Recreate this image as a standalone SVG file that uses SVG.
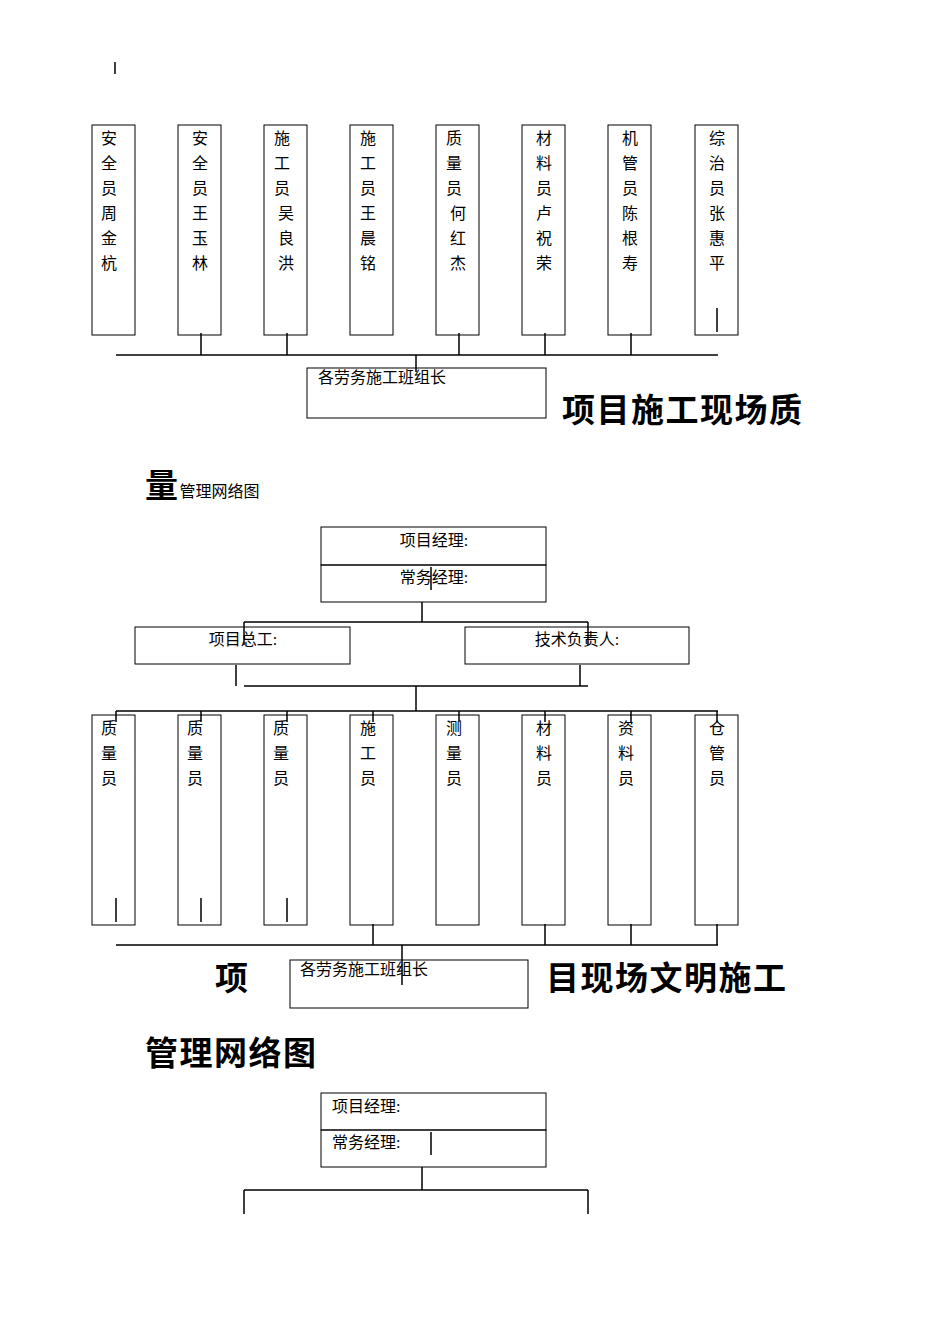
<svg xmlns="http://www.w3.org/2000/svg" width="950" height="1344" viewBox="0 0 950 1344">
<style>
.b{fill:none;stroke:#000;stroke-width:1}
.l{stroke:#000;stroke-width:1.5;fill:none}
.t{font-family:"Liberation Serif","Noto Sans CJK SC",serif;font-size:16px;fill:#000}
.v{font-family:"Liberation Serif","Noto Sans CJK SC",serif;font-size:16px;fill:#000;text-anchor:middle}
.h{font-family:"Noto Sans CJK SC",sans-serif;font-size:33px;letter-spacing:1.5px;font-weight:bold;fill:#000}
</style>
<rect width="950" height="1344" fill="#fff"/>
<line x1="115" y1="62" x2="115" y2="74" class="l" stroke-width="1"/>
<g id="s1">
<g id="n1a"><rect x="92" y="125" width="43" height="210" class="b"/><text class="v"><tspan x="109" y="144">安</tspan><tspan x="109" y="169">全</tspan><tspan x="109" y="194">员</tspan><tspan x="109" y="219">周</tspan><tspan x="109" y="244">金</tspan><tspan x="109" y="269">杭</tspan></text></g>
<g id="n1b"><rect x="178" y="125" width="43" height="210" class="b"/><text class="v"><tspan x="200" y="144">安</tspan><tspan x="200" y="169">全</tspan><tspan x="200" y="194">员</tspan><tspan x="200" y="219">王</tspan><tspan x="200" y="244">玉</tspan><tspan x="200" y="269">林</tspan></text></g>
<g id="n1c"><rect x="264" y="125" width="43" height="210" class="b"/><text class="v"><tspan x="282" y="144">施</tspan><tspan x="282" y="169">工</tspan><tspan x="282" y="194">员</tspan><tspan x="286" y="219">吴</tspan><tspan x="286" y="244">良</tspan><tspan x="286" y="269">洪</tspan></text></g>
<g id="n1d"><rect x="350" y="125" width="43" height="210" class="b"/><text class="v"><tspan x="368" y="144">施</tspan><tspan x="368" y="169">工</tspan><tspan x="368" y="194">员</tspan><tspan x="368" y="219">王</tspan><tspan x="368" y="244">晨</tspan><tspan x="368" y="269">铭</tspan></text></g>
<g id="n1e"><rect x="436" y="125" width="43" height="210" class="b"/><text class="v"><tspan x="454" y="144">质</tspan><tspan x="454" y="169">量</tspan><tspan x="454" y="194">员</tspan><tspan x="458" y="219">何</tspan><tspan x="458" y="244">红</tspan><tspan x="458" y="269">杰</tspan></text></g>
<g id="n1f"><rect x="522" y="125" width="43" height="210" class="b"/><text class="v"><tspan x="544" y="144">材</tspan><tspan x="544" y="169">料</tspan><tspan x="544" y="194">员</tspan><tspan x="544" y="219">卢</tspan><tspan x="544" y="244">祝</tspan><tspan x="544" y="269">荣</tspan></text></g>
<g id="n1g"><rect x="608" y="125" width="43" height="210" class="b"/><text class="v"><tspan x="630" y="144">机</tspan><tspan x="630" y="169">管</tspan><tspan x="630" y="194">员</tspan><tspan x="630" y="219">陈</tspan><tspan x="630" y="244">根</tspan><tspan x="630" y="269">寿</tspan></text></g>
<g id="n1h"><rect x="695" y="125" width="43" height="210" class="b"/><text class="v"><tspan x="717" y="144">综</tspan><tspan x="717" y="169">治</tspan><tspan x="717" y="194">员</tspan><tspan x="717" y="219">张</tspan><tspan x="717" y="244">惠</tspan><tspan x="717" y="269">平</tspan></text></g>
<g id="n1i"><rect x="307" y="368" width="239" height="50" class="b"/><text class="t" x="318" y="383">各劳务施工班组长</text></g>
</g>
<g id="c1" class="l">
<line x1="116" y1="355" x2="718" y2="355"/>
<line x1="201" y1="333" x2="201" y2="355"/><line x1="287" y1="333" x2="287" y2="355"/>
<line x1="459" y1="333" x2="459" y2="355"/><line x1="545" y1="333" x2="545" y2="355"/>
<line x1="631" y1="333" x2="631" y2="355"/><line x1="717" y1="308" x2="717" y2="332"/>
<line x1="416" y1="355" x2="416" y2="372"/>
</g>
<text class="h" x="562" y="422">项目施工现场质</text>
<text x="145" y="497"><tspan class="h">量</tspan><tspan class="t">管理网络图</tspan></text>
<g id="s2">
<g id="n2a"><rect x="321" y="527" width="225" height="38" class="b"/><text class="t" x="434" y="546" text-anchor="middle">项目经理:</text></g>
<g id="n2b"><rect x="321" y="565" width="225" height="37" class="b"/><text class="t" x="434" y="583" text-anchor="middle">常务经理:</text></g>
<g id="n2c"><rect x="135" y="627" width="215" height="37" class="b"/><text class="t" x="243" y="645" text-anchor="middle">项目总工:</text></g>
<g id="n2d"><rect x="465" y="627" width="224" height="37" class="b"/><text class="t" x="577" y="645" text-anchor="middle">技术负责人:</text></g>
<g id="n2e"><rect x="92" y="715" width="43" height="210" class="b"/><text class="v"><tspan x="109" y="734">质</tspan><tspan x="109" y="759">量</tspan><tspan x="109" y="784">员</tspan></text></g>
<g id="n2f"><rect x="178" y="715" width="43" height="210" class="b"/><text class="v"><tspan x="195" y="734">质</tspan><tspan x="195" y="759">量</tspan><tspan x="195" y="784">员</tspan></text></g>
<g id="n2g"><rect x="264" y="715" width="43" height="210" class="b"/><text class="v"><tspan x="281" y="734">质</tspan><tspan x="281" y="759">量</tspan><tspan x="281" y="784">员</tspan></text></g>
<g id="n2h"><rect x="350" y="715" width="43" height="210" class="b"/><text class="v"><tspan x="368" y="734">施</tspan><tspan x="368" y="759">工</tspan><tspan x="368" y="784">员</tspan></text></g>
<g id="n2i"><rect x="436" y="715" width="43" height="210" class="b"/><text class="v"><tspan x="454" y="734">测</tspan><tspan x="454" y="759">量</tspan><tspan x="454" y="784">员</tspan></text></g>
<g id="n2j"><rect x="522" y="715" width="43" height="210" class="b"/><text class="v"><tspan x="544" y="734">材</tspan><tspan x="544" y="759">料</tspan><tspan x="544" y="784">员</tspan></text></g>
<g id="n2k"><rect x="608" y="715" width="43" height="210" class="b"/><text class="v"><tspan x="626" y="734">资</tspan><tspan x="626" y="759">料</tspan><tspan x="626" y="784">员</tspan></text></g>
<g id="n2l"><rect x="695" y="715" width="43" height="210" class="b"/><text class="v"><tspan x="717" y="734">仓</tspan><tspan x="717" y="759">管</tspan><tspan x="717" y="784">员</tspan></text></g>
<g id="n2m"><rect x="290" y="960" width="238" height="48" class="b"/><text class="t" x="300" y="975">各劳务施工班组长</text></g>
</g>
<g id="c2" class="l">
<line x1="431" y1="567" x2="431" y2="590"/>
<line x1="422" y1="602" x2="422" y2="622"/>
<line x1="244" y1="622" x2="588" y2="622"/>
<line x1="244" y1="622" x2="244" y2="645"/><line x1="588" y1="622" x2="588" y2="645"/>
<line x1="236" y1="665" x2="236" y2="686"/><line x1="580" y1="665" x2="580" y2="686"/>
<line x1="244" y1="686" x2="588" y2="686"/>
<line x1="416" y1="686" x2="416" y2="711"/>
<line x1="116" y1="711" x2="718" y2="711"/>
<line x1="116" y1="711" x2="116" y2="722"/><line x1="201" y1="711" x2="201" y2="722"/>
<line x1="287" y1="711" x2="287" y2="722"/><line x1="373" y1="711" x2="373" y2="722"/>
<line x1="459" y1="711" x2="459" y2="722"/><line x1="545" y1="711" x2="545" y2="722"/>
<line x1="631" y1="711" x2="631" y2="722"/><line x1="717" y1="711" x2="717" y2="722"/>
<line x1="116" y1="898" x2="116" y2="922"/><line x1="201" y1="898" x2="201" y2="922"/>
<line x1="287" y1="898" x2="287" y2="922"/>
<line x1="373" y1="924" x2="373" y2="945"/><line x1="545" y1="924" x2="545" y2="945"/>
<line x1="631" y1="924" x2="631" y2="945"/><line x1="717" y1="924" x2="717" y2="945"/>
<line x1="116" y1="945" x2="718" y2="945"/>
<line x1="402" y1="945" x2="402" y2="985"/>
</g>
<text class="h" x="215" y="990">项</text>
<text class="h" x="546" y="990">目现场文明施工</text>
<text class="h" x="145" y="1065">管理网络图</text>
<g id="s3">
<g id="n3a"><rect x="321" y="1093" width="225" height="37" class="b"/><text class="t" x="332" y="1112">项目经理:</text></g>
<g id="n3b"><rect x="321" y="1130" width="225" height="37" class="b"/><text class="t" x="332" y="1148">常务经理:</text></g>
</g>
<g id="c3" class="l">
<line x1="431" y1="1132" x2="431" y2="1155"/>
<line x1="422" y1="1167" x2="422" y2="1190"/>
<line x1="244" y1="1190" x2="588" y2="1190"/>
<line x1="244" y1="1190" x2="244" y2="1214"/><line x1="588" y1="1190" x2="588" y2="1214"/>
</g>
</svg>
